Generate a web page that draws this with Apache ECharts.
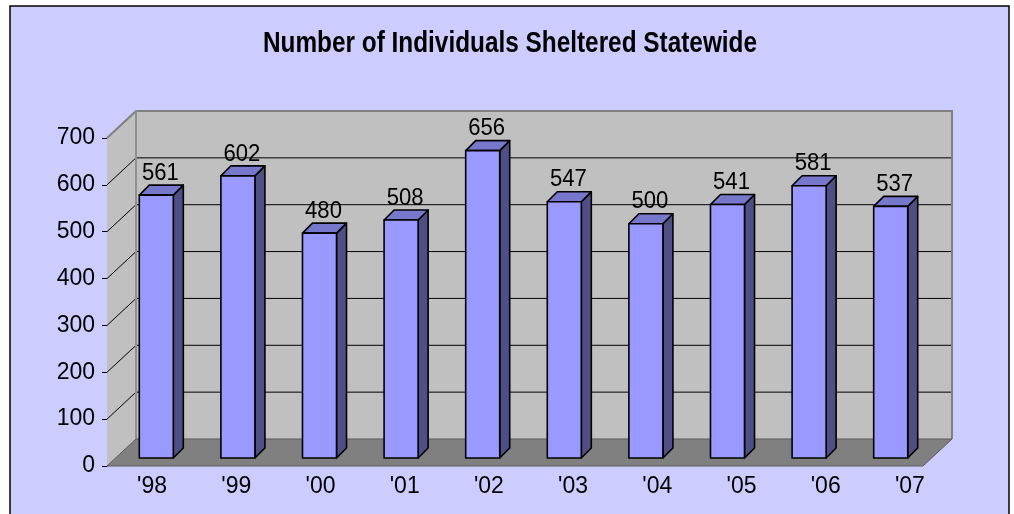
<!DOCTYPE html>
<html>
<head>
<meta charset="utf-8">
<script src="https://cdn.jsdelivr.net/npm/echarts@6/dist/echarts.min.js"></script>
<style>
html,body{margin:0;padding:0;background:#fff;}
#chart{width:1014px;height:514px;}
</style>
</head>
<body>
<div id="chart"></div>
<script>
const categories = ["'98", "'99", "'00", "'01", "'02", "'03", "'04", "'05", "'06", "'07"];
const values = [561, 602, 480, 508, 656, 547, 500, 541, 581, 537];
const yTicks = [0, 100, 200, 300, 400, 500, 600, 700];
const titleText = 'Number of Individuals Sheltered Statewide';

const FONT = 'Liberation Sans, Arial, sans-serif';
const WALL_DX = 29, WALL_DY = 27;   // depth of the 3D box
const BAR_DX = 8.5, BAR_DY = 8;     // bar plane offset
const BAR_D = 10;                   // bar depth
const BAR_W = 0.417;                // bar width ratio of band

const chart = echarts.init(document.getElementById('chart'), null, {renderer: 'canvas'});

function renderWalls(params, api) {
  const cs = params.coordSys;
  const x0 = cs.x, x1 = cs.x + cs.width;
  const yTop = api.coord([0, yTicks[yTicks.length - 1]])[1];
  const yBot = api.coord([0, yTicks[0]])[1];
  const children = [];
  children.push({type: 'polygon', shape: {points: [[x0, yTop], [x0 + WALL_DX, yTop - WALL_DY], [x0 + WALL_DX, yBot - WALL_DY], [x0, yBot]]},
    style: {fill: '#C0C0C0', stroke: null}});
  children.push({type: 'rect', shape: {x: x0 + WALL_DX, y: yTop - WALL_DY, width: cs.width, height: yBot - yTop},
    style: {fill: '#C0C0C0', stroke: null}});
  for (let i = 1; i < yTicks.length - 1; i++) {
    const y = api.coord([0, yTicks[i]])[1];
    children.push({type: 'polyline', shape: {points: [[x0, y], [x0 + WALL_DX, y - WALL_DY], [x1 + WALL_DX, y - WALL_DY]]},
      style: {stroke: '#000', lineWidth: 1, fill: null}});
  }
  children.push({type: 'polyline', shape: {points: [[x0, yTop], [x0 + WALL_DX, yTop - WALL_DY], [x1 + WALL_DX, yTop - WALL_DY], [x1 + WALL_DX, yBot - WALL_DY]]},
    style: {stroke: '#808080', lineWidth: 2, fill: null}});
  children.push({type: 'line', shape: {x1: x0 + WALL_DX, y1: yTop - WALL_DY, x2: x0 + WALL_DX, y2: yBot - WALL_DY},
    style: {stroke: '#909090', lineWidth: 2}});
  children.push({type: 'polygon', shape: {points: [[x0, yBot], [x0 + WALL_DX, yBot - WALL_DY], [x1 + WALL_DX, yBot - WALL_DY], [x1, yBot]]},
    style: {fill: '#808080', stroke: '#5a5a5a', lineWidth: 1}});
  return {type: 'group', children: children};
}

function renderBar(params, api) {
  const idx = api.value(0);
  const val = api.value(1);
  const base = api.coord([idx, 0]);
  const top = api.coord([idx, val]);
  const bw = api.size([1, 0])[0] * BAR_W;
  const x = base[0] + BAR_DX - bw / 2;
  const yb = base[1] - BAR_DY;
  const yt = top[1] - BAR_DY;
  const d = BAR_D;
  const line = {stroke: '#000', lineWidth: 1.6, lineJoin: 'round'};
  return {type: 'group', children: [
    {type: 'polygon', shape: {points: [[x + bw, yt], [x + bw + d, yt - d], [x + bw + d, yb - d], [x + bw, yb]]},
      style: Object.assign({fill: '#4F4F86'}, line)},
    {type: 'polygon', shape: {points: [[x, yt], [x + d, yt - d], [x + bw + d, yt - d], [x + bw, yt]]},
      style: Object.assign({fill: '#7777CC'}, line)},
    {type: 'rect', shape: {x: x, y: yt, width: bw, height: yb - yt},
      style: Object.assign({fill: '#9999FF'}, line)},
    {type: 'text', x: x + bw / 2 + 4, y: yt - 10, scaleX: 0.92,
      style: {text: String(val), fill: '#000', fontSize: 24, fontFamily: FONT, align: 'center', verticalAlign: 'bottom'}}
  ]};
}

const option = {
  backgroundColor: '#ffffff',
  animation: false,
  graphic: [{
    type: 'rect', z: -10, silent: true,
    shape: {x: 10, y: 6, width: 999, height: 520},
    style: {fill: '#CCCCFF', stroke: '#000', lineWidth: 1.5}
  }, {
    type: 'text', z: 10, silent: true,
    x: 510, y: 44, scaleX: 0.84,
    style: {text: titleText, fill: '#000', fontFamily: FONT, fontWeight: 'bold', fontSize: 29,
      align: 'center', verticalAlign: 'middle'}
  }],
  grid: [
    {left: 107, right: 91, top: 138, bottom: 48, containLabel: false},
    {left: 110, right: 62, top: 138, bottom: 48, containLabel: false}
  ],
  xAxis: [
    {type: 'category', gridIndex: 0, data: categories,
      axisLine: {show: false}, axisTick: {show: false}, axisLabel: {show: false}, splitLine: {show: false}},
    {type: 'category', gridIndex: 1, data: categories,
      axisLine: {show: false}, axisTick: {show: false}, splitLine: {show: false},
      axisLabel: {show: true, interval: 0, margin: 9, color: '#000', fontSize: 23, fontFamily: FONT}}
  ],
  yAxis: [
    {type: 'value', gridIndex: 0, min: 0, max: 700, interval: 100,
      axisLine: {show: true, lineStyle: {color: '#000', width: 1}},
      axisTick: {show: true, length: 5, lineStyle: {color: '#000'}},
      splitLine: {show: false},
      axisLabel: {margin: 12, color: '#000', fontSize: 23, fontFamily: FONT}},
    {type: 'value', gridIndex: 1, min: 0, max: 700, interval: 100, show: false}
  ],
  series: [
    {type: 'custom', name: 'walls', xAxisIndex: 0, yAxisIndex: 0, z: 1,
      data: [[0, 0]], renderItem: renderWalls, silent: true},
    {type: 'custom', name: 'bars', xAxisIndex: 0, yAxisIndex: 0, z: 3,
      data: values.map((v, i) => [i, v]), renderItem: renderBar, encode: {x: 0, y: 1}}
  ]
};
chart.setOption(option);
</script>
</body>
</html>
